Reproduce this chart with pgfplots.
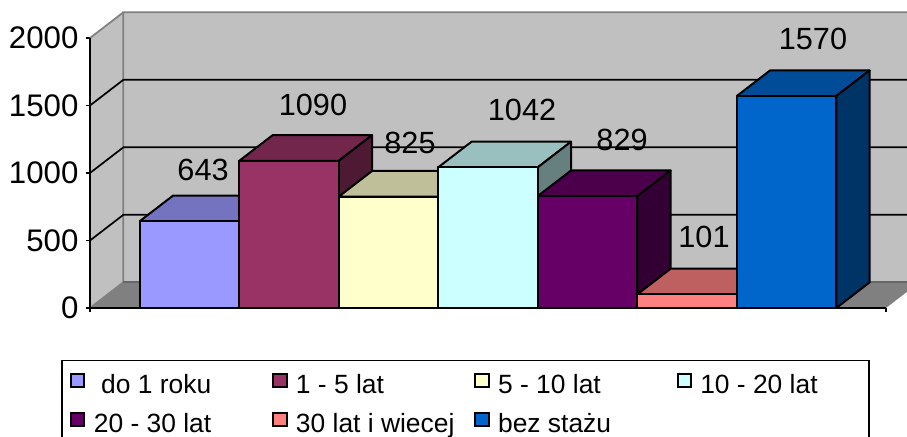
\documentclass[border=0pt]{standalone}
\usepackage{fontspec}
\setmainfont{Liberation Sans}
\usepackage{pgfplots}
\pgfplotsset{compat=1.18}
\definecolor{c1}{HTML}{9999FF}\definecolor{t1}{HTML}{7373BF}\definecolor{s1}{HTML}{4D4D80}
\definecolor{c2}{HTML}{993366}\definecolor{t2}{HTML}{73264C}\definecolor{s2}{HTML}{4D1933}
\definecolor{c3}{HTML}{FFFFCC}\definecolor{t3}{HTML}{BFBF99}\definecolor{s3}{HTML}{808066}
\definecolor{c4}{HTML}{CCFFFF}\definecolor{t4}{HTML}{99BFBF}\definecolor{s4}{HTML}{668080}
\definecolor{c5}{HTML}{660066}\definecolor{t5}{HTML}{4C004C}\definecolor{s5}{HTML}{330033}
\definecolor{c6}{HTML}{FF8080}\definecolor{t6}{HTML}{BF6060}\definecolor{s6}{HTML}{804040}
\definecolor{c7}{HTML}{0066CC}\definecolor{t7}{HTML}{004C99}\definecolor{s7}{HTML}{003366}
\definecolor{wall}{HTML}{C0C0C0}\definecolor{floorc}{HTML}{808080}
\newcommand{\LE}[1]{\makebox[131.1pt][l]{\rule[-14.4pt]{0pt}{34pt}#1}}
\newcommand{\LL}[1]{\makebox[119.25pt][l]{\rule[-14.4pt]{0pt}{34pt}#1}}
\pgfplotsset{
  face/.style={forget plot, draw=black, line width=1.5pt, line join=round},
  front/.style={ybar, bar width=1, bar shift=0pt, draw=black, line width=1.5pt,
    legend image code/.code={\path (0,0) (15pt,0);\draw[##1,draw=black,line width=1.5pt] (0.7pt,-4.6pt) rectangle (10.7pt,5.4pt);}},
}
\begin{document}
\begin{tikzpicture}
\path[use as bounding box] (-67.5pt,-96pt) rectangle (612.75pt,231pt);
\begin{axis}[
  at={(0pt,0pt)}, anchor=south west, scale only axis,
  width=612.75pt, height=221.74pt,
  xmin=0, xmax=8.211, ymin=0, ymax=2190,
  clip=false,
  axis y line*=left, axis x line*=bottom,
  axis line style={draw=none},
  xtick={0,8}, xticklabels={},
  ytick={0,500,1000,1500,2000},
  tick align=outside, major tick length=3pt,
  tick style={black, line width=1.2pt},
  /pgf/number format/assume math mode=true,
  /pgf/number format/1000 sep={},
  yticklabel style={font=\fontsize{23.4pt}{25pt}\selectfont, inner sep=0pt, xshift=-5.5pt},
  legend columns=4,
  legend style={at={(-0.0355,-0.1743)}, anchor=north west, draw=black, line width=1.3pt,
    inner xsep=5.5pt, inner ysep=3pt, column sep=0pt, row sep=4pt,
    font=\fontsize{19.8pt}{22pt}\selectfont,
    cells={anchor=west, inner sep=0pt}},
]
% walls and floor
\addplot[forget plot, fill=floorc, draw=none] coordinates {(0,0)(8,0)(8.211,120)(8.211,190)(.335,190)(0,0)};
\addplot[forget plot, fill=wall, draw=none] coordinates {(.335,190)(8.211,190)(8.211,2190)(.335,2190)(.335,190)};
\addplot[forget plot, fill=wall, draw=none] coordinates {(0,0)(.335,190)(.335,2190)(0,2000)(0,0)};
\addplot[forget plot, draw=floorc, line width=1.3pt] coordinates {(0,0)(.335,190)(.335,2190)(8.211,2190)};
\addplot[forget plot, draw=floorc, line width=1.3pt] coordinates {(0,2000)(.335,2190)};
\addplot[forget plot, draw=floorc!80!black, line width=1.3pt] coordinates {(.335,190)(8.211,190)};
% grid
\addplot[forget plot, draw=black, line width=1.3pt] coordinates {(0,500)(.335,690)(8.211,690)};
\addplot[forget plot, draw=black, line width=1.3pt] coordinates {(0,1000)(.335,1190)(8.211,1190)};
\addplot[forget plot, draw=black, line width=1.3pt] coordinates {(0,1500)(.335,1690)(8.211,1690)};
% bars
\addplot[face, fill=t1] coordinates {(.5,643)(1.5,643)(1.835,833)(.835,833)(.5,643)};
\addplot[face, fill=s1] coordinates {(1.5,0)(1.835,190)(1.835,833)(1.5,643)(1.5,0)};
\addplot[front, fill=c1] coordinates {(1,643)};
\addlegendentry{\LE{\ do 1 roku}}
\addplot[face, fill=t2] coordinates {(1.5,1090)(2.5,1090)(2.835,1280)(1.835,1280)(1.5,1090)};
\addplot[face, fill=s2] coordinates {(2.5,0)(2.835,190)(2.835,1280)(2.5,1090)(2.5,0)};
\addplot[front, fill=c2] coordinates {(2,1090)};
\addlegendentry{\LE{1 - 5 lat}}
\addplot[face, fill=t3] coordinates {(2.5,825)(3.5,825)(3.835,1015)(2.835,1015)(2.5,825)};
\addplot[face, fill=s3] coordinates {(3.5,0)(3.835,190)(3.835,1015)(3.5,825)(3.5,0)};
\addplot[front, fill=c3] coordinates {(3,825)};
\addlegendentry{\LE{5 - 10 lat}}
\addplot[face, fill=t4] coordinates {(3.5,1042)(4.5,1042)(4.835,1232)(3.835,1232)(3.5,1042)};
\addplot[face, fill=s4] coordinates {(4.5,0)(4.835,190)(4.835,1232)(4.5,1042)(4.5,0)};
\addplot[front, fill=c4] coordinates {(4,1042)};
\addlegendentry{\LL{10 - 20 lat}}
\addplot[face, fill=t5] coordinates {(4.5,829)(5.5,829)(5.835,1019)(4.835,1019)(4.5,829)};
\addplot[face, fill=s5] coordinates {(5.5,0)(5.835,190)(5.835,1019)(5.5,829)(5.5,0)};
\addplot[front, fill=c5] coordinates {(5,829)};
\addlegendentry{\LE{20 - 30 lat}}
\addplot[face, fill=t6] coordinates {(5.5,101)(6.5,101)(6.835,291)(5.835,291)(5.5,101)};
\addplot[face, fill=s6] coordinates {(6.5,0)(6.835,190)(6.835,291)(6.5,101)(6.5,0)};
\addplot[front, fill=c6] coordinates {(6,101)};
\addlegendentry{\LE{30 lat i wiecej}}
\addplot[face, fill=t7] coordinates {(6.5,1570)(7.5,1570)(7.835,1760)(6.835,1760)(6.5,1570)};
\addplot[face, fill=s7] coordinates {(7.5,0)(7.835,190)(7.835,1760)(7.5,1570)(7.5,0)};
\addplot[front, fill=c7] coordinates {(7,1570)};
\addlegendentry{\LE{bez stażu}}
% axis lines
\addplot[forget plot, draw=black, line width=1.6pt] coordinates {(0,2000)(0,0)(8,0)};
% data labels
\addplot[forget plot, draw=none, nodes near coords, point meta=explicit symbolic,
  nodes near coords style={anchor=center, inner sep=0pt, text=black, font=\fontsize{23pt}{25pt}\selectfont}]
  table[meta=l] {
x y l
1.136 1022 643
2.241 1504 1090
3.216 1222 825
4.342 1464 1042
5.347 1244 829
6.171 523 101
7.266 1990 1570
};
\end{axis}
\end{tikzpicture}
\end{document}
